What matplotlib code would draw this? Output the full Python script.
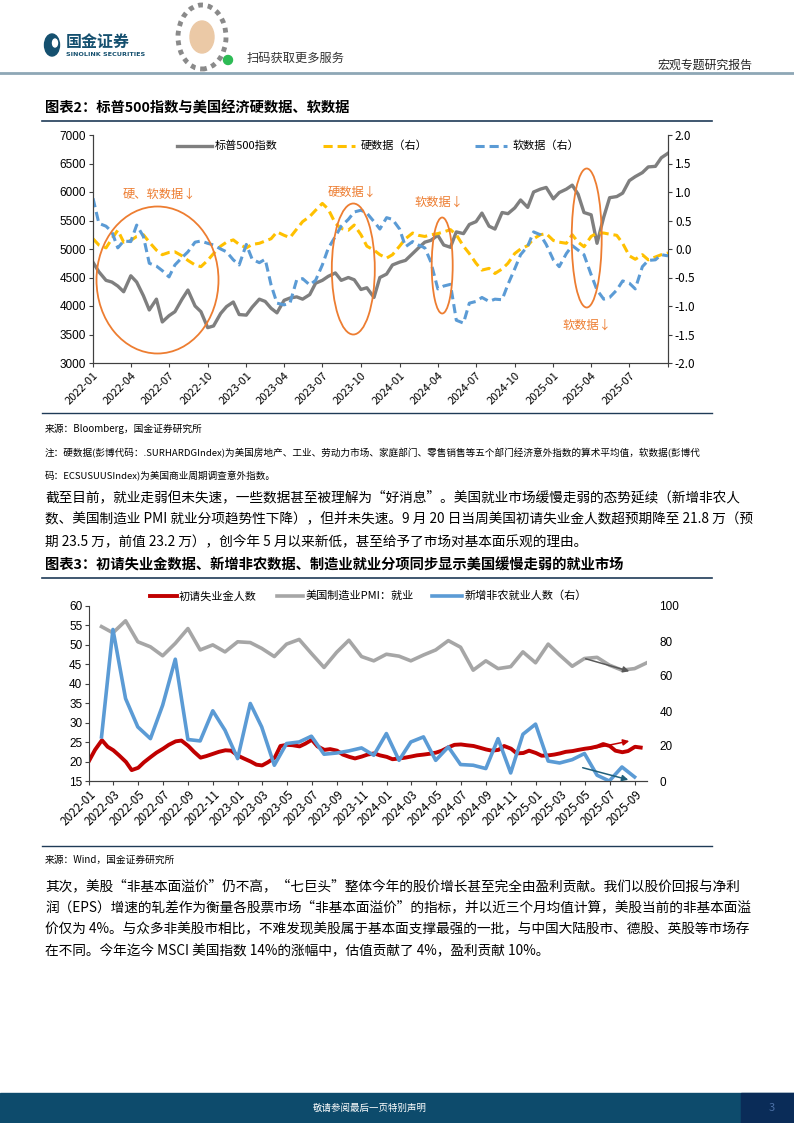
import matplotlib
matplotlib.use('Agg')
import matplotlib.pyplot as plt
from matplotlib.patches import Ellipse, Rectangle, FancyArrowPatch
from matplotlib.lines import Line2D
import pandas as pd

plt.rcParams['font.family'] = ['Noto Sans CJK SC', 'DejaVu Sans']
plt.rcParams['axes.unicode_minus'] = False

W, H = 794, 1123


def fx(x):
    return x / W


def fy(y):
    return 1 - y / H


# ---------------- 图表2 数据 (半月频, 2022-01-01 起) ----------------
spx = [4766, 4600, 4450, 4420, 4350, 4250, 4530, 4420, 4180, 3930,
       4120, 3720, 3830, 3900, 4120, 4280, 4000, 3900, 3620, 3650,
       3870, 3990, 4070, 3850, 3840, 3980, 4120, 4080, 3960, 3880,
       4100, 4140, 4160, 4120, 4200, 4400, 4450, 4520, 4580, 4450,
       4500, 4460, 4290, 4320, 4150, 4500, 4560, 4720, 4770, 4800,
       4920, 5020, 5120, 5150, 5240, 5070, 5030, 5300, 5270, 5430,
       5480, 5630, 5400, 5350, 5640, 5620, 5720, 5860, 5730, 6000,
       6050, 6080, 5880, 5990, 6050, 6120, 5960, 5640, 5600, 5100,
       5560, 5900, 5920, 5980, 6200, 6270, 6340, 6440, 6450, 6600,
       6680]
hard = [0.18, 0.07, 0.02, 0.18, 0.33, 0.12, 0.15, 0.22, 0.25, 0.12,
        -0.02, -0.10, -0.06, -0.05, -0.12, -0.20, -0.28, -0.31, -0.20, -0.08,
        0.05, 0.12, 0.16, 0.08, 0.02, 0.08, 0.10, 0.14, 0.18, 0.30,
        0.24, 0.20, 0.35, 0.48, 0.57, 0.68, 0.80, 0.70, 0.45, 0.36,
        0.33, 0.42, 0.25, 0.05, -0.02, -0.10, -0.16, -0.10, 0.05, 0.18,
        0.28, 0.24, 0.22, 0.25, 0.27, 0.30, 0.34, 0.25, 0.05, -0.08,
        -0.25, -0.37, -0.34, -0.43, -0.35, -0.25, -0.08, 0.00, 0.06, 0.18,
        0.25, 0.27, 0.15, 0.12, 0.10, 0.25, 0.12, 0.04, 0.22, 0.28,
        0.28, 0.26, 0.24, 0.10, -0.12, -0.18, -0.10, -0.19, -0.14, -0.10,
        -0.07]
soft = [0.89, 0.45, 0.40, 0.30, 0.02, 0.14, 0.13, 0.42, 0.22, -0.25,
        -0.30, -0.38, -0.49, -0.28, -0.15, -0.05, 0.12, 0.14, 0.10, 0.07,
        0.00, -0.05, -0.19, -0.28, 0.08, -0.18, -0.24, -0.18, -0.63, -0.95,
        -0.98, -0.95, -0.54, -0.52, -0.63, -0.55, -0.28, 0.01, 0.22, 0.40,
        0.52, 0.65, 0.68, 0.63, 0.48, 0.35, 0.55, 0.52, 0.35, 0.04,
        0.13, 0.07, 0.02, -0.22, -0.70, -0.65, -0.62, -1.25, -1.30, -0.95,
        -0.92, -0.85, -0.92, -0.88, -0.89, -0.62, -0.35, -0.10, 0.05, 0.30,
        0.25, 0.08, -0.19, -0.31, -0.08, 0.06, -0.02, -0.10, -0.45, -0.72,
        -0.88, -0.85, -0.72, -0.56, -0.60, -0.70, -0.31, -0.20, -0.19, -0.10,
        -0.12]

# ---------------- 图表3 数据 ----------------
# 初请失业金人数 (万人, 半月频)
claims = [20.3, 23.0, 25.5, 23.8, 22.9, 21.6, 19.9, 17.8, 18.4, 19.8,
          21.2, 22.3, 23.3, 24.3, 25.2, 25.4, 24.0, 22.5, 21.0, 21.4,
          22.0, 22.5, 22.9, 22.8, 21.5, 20.8, 20.0, 19.2, 19.0, 19.8,
          21.0, 24.0, 24.3, 24.2, 23.9, 24.6, 25.6, 23.9, 23.0, 23.2,
          22.8, 21.8, 21.2, 20.8, 21.3, 21.8, 22.1, 21.6, 21.2, 20.6,
          20.8, 21.0, 21.3, 21.6, 21.8, 22.0, 22.3, 22.8, 23.7, 24.3,
          24.4, 24.2, 24.0, 23.6, 23.1, 22.8, 23.0, 24.0, 23.3, 22.1,
          22.2, 22.8, 22.2, 21.5, 21.6, 21.8, 22.1, 22.5, 22.7, 23.0,
          23.3, 23.5, 23.9, 24.5, 24.0, 22.8, 22.4, 22.7, 23.8, 23.6]
# 美国制造业PMI: 就业 (月频, 2022-01 至 2025-09)
pmi_emp = [54.7, 53.1, 56.2, 50.8, 49.5, 47.2, 50.4, 54.2, 48.7, 50.0,
           48.2, 50.8, 50.6, 49.1, 47.0, 50.2, 51.4, 47.8, 44.2, 48.1,
           51.2, 47.0, 45.9, 47.6, 47.1, 45.9, 47.4, 48.7, 51.1, 49.4,
           43.5, 45.9, 43.9, 44.4, 48.2, 45.4, 50.2, 47.4, 44.5, 46.5,
           46.8, 44.8, 43.5, 43.9, 45.4]
# 新增非农就业人数 (万人, 右轴, 2022-01 至 2025-08)
nfp = [25.2, 86.6, 47.1, 30.9, 24.2, 43.3, 69.6, 23.7, 22.9, 40.1,
       29.0, 12.8, 44.3, 30.9, 9.0, 21.4, 22.3, 25.6, 15.3, 16.0,
       17.2, 18.9, 14.7, 27.1, 11.8, 22.3, 25.2, 11.8, 19.5, 9.4,
       9.0, 7.1, 24.2, 4.6, 26.7, 32.5, 11.4, 10.3, 12.2, 15.7,
       3.3, 0.0, 8.0, 2.3]

fig = plt.figure(figsize=(W / 100, H / 100), dpi=100)

# ---------------- 页眉 ----------------
fig.add_artist(Ellipse((fx(52), fy(45)), 15 / W, 22 / H, transform=fig.transFigure,
                       color='#15506F'))
fig.add_artist(Ellipse((fx(55), fy(43)), 5 / W, 8 / H, transform=fig.transFigure,
                       color='white'))
fig.text(fx(66), fy(42), '国金证券', fontsize=11.5, fontweight='bold',
         color='#15506F', va='center')
fig.text(fx(66), fy(54), 'SINOLINK SECURITIES', fontsize=4.6, fontweight='bold',
         color='#15506F', va='center', family='DejaVu Sans')
# 二维码位置 (示意)
fig.add_artist(Ellipse((fx(202), fy(37)), 48 / W, 64 / H, transform=fig.transFigure,
                       fill=False, ec='#8A8A8A', lw=3.5, ls=(0, (1, 1))))
fig.add_artist(Ellipse((fx(202), fy(37)), 24 / W, 32 / H, transform=fig.transFigure,
                       color='#EBC9A6'))
fig.add_artist(Ellipse((fx(228), fy(60)), 9 / W, 9 / H, transform=fig.transFigure,
                       color='#2DBB55'))
fig.text(fx(247), fy(58), '扫码获取更多服务', fontsize=8.8, color='#333333', va='center')
fig.text(fx(752), fy(65), '宏观专题研究报告', fontsize=8.6, color='#222222',
         va='center', ha='right')
fig.add_artist(Line2D([0, 1], [fy(73), fy(73)], transform=fig.transFigure,
                      color='#8EA7B6', lw=2))

line_c = '#1F3B57'
orange = '#ED7D31'

# ---------------- 图表2 ----------------
fig.text(fx(45), fy(108), '图表2：标普500指数与美国经济硬数据、软数据', fontsize=10.3,
         fontweight='bold', va='center')
fig.add_artist(Line2D([fx(42), fx(712)], [fy(121), fy(121)], transform=fig.transFigure,
                      color=line_c, lw=1.2))

ax1 = fig.add_axes([fx(93), fy(363), (668 - 93) / W, (363 - 135) / H])
d1 = pd.date_range('2022-01-01', periods=len(spx), freq='SMS')
ax1.plot(d1, spx, color='#7F7F7F', lw=2.4, solid_joinstyle='round')
ax1.set_ylim(3000, 7000)
ax1.set_yticks(range(3000, 7001, 500))
ax1.set_xlim(pd.Timestamp('2022-01-01'), pd.Timestamp('2025-10-01'))
q = pd.date_range('2022-01-01', '2025-10-01', freq='QS')
ax1.set_xticks(q)
ax1.set_xticklabels([d.strftime('%Y-%m') for d in q[:-1]] + [''], rotation=45,
                    ha='right', rotation_mode='anchor', fontsize=8)
ax1r = ax1.twinx()
ax1r.plot(d1, hard, color='#FFC000', lw=2.2, dashes=(3, 1.6))
ax1r.plot(d1, soft, color='#5B9BD5', lw=2.2, dashes=(3, 1.6))
ax1r.set_ylim(-2, 2)
ax1r.set_yticks([-2, -1.5, -1, -0.5, 0, 0.5, 1, 1.5, 2])
ax1r.set_yticklabels(['%.1f' % v for v in ax1r.get_yticks()], fontsize=8.5)
for a in (ax1, ax1r):
    a.spines['top'].set_visible(False)
    for s in ('left', 'right', 'bottom'):
        a.spines[s].set_color('#404040')
        a.spines[s].set_linewidth(0.8)
    a.tick_params(direction='out', length=3, width=0.8, color='#404040', pad=2)
ax1.tick_params(axis='y', labelsize=8.5)
for lab in ax1.get_yticklabels():
    lab.set_family(['Liberation Sans', 'DejaVu Sans'])

# 图例
fig.add_artist(Line2D([fx(177), fx(212)], [fy(146), fy(146)], transform=fig.transFigure,
                      color='#7F7F7F', lw=2.4))
fig.text(fx(215), fy(146), '标普500指数', fontsize=8, va='center')
fig.add_artist(Line2D([fx(323), fx(355)], [fy(146), fy(146)], transform=fig.transFigure,
                      color='#FFC000', lw=2.2, dashes=(3, 1.6)))
fig.text(fx(361), fy(146), '硬数据（右）', fontsize=8, va='center')
fig.add_artist(Line2D([fx(475), fx(507)], [fy(146), fy(146)], transform=fig.transFigure,
                      color='#5B9BD5', lw=2.2, dashes=(3, 1.6)))
fig.text(fx(513), fy(146), '软数据（右）', fontsize=8, va='center')

# 椭圆标注
for cx, cy, ew, eh in [(157.5, 280, 122, 147), (353.3, 269, 43, 131),
                       (442.2, 265.5, 21, 96), (586.7, 238, 30, 139)]:
    fig.add_artist(Ellipse((fx(cx), fy(cy)), ew / W, eh / H, transform=fig.transFigure,
                           fill=False, ec=orange, lw=1.3))
for tx, ty, t in [(123, 194, '硬、软数据↓'), (328, 192, '硬数据↓'),
                  (415, 202, '软数据↓'), (563, 325, '软数据↓')]:
    fig.text(fx(tx), fy(ty), t, fontsize=8.8, color=orange, va='center')

fig.add_artist(Line2D([fx(42), fx(712)], [fy(413), fy(413)], transform=fig.transFigure,
                      color=line_c, lw=1.0))
fig.text(fx(45), fy(429), '来源：Bloomberg，国金证券研究所', fontsize=7, va='center')
fig.text(fx(45), fy(453), '注：硬数据(彭博代码：.SURHARDGIndex)为美国房地产、工业、劳动力市场、'
         '家庭部门、零售销售等五个部门经济意外指数的算术平均值，软数据(彭博代', fontsize=6.9,
         va='center')
fig.text(fx(45), fy(476), '码：ECSUSUUSIndex)为美国商业周期调查意外指数。', fontsize=6.9,
         va='center')

para1 = ['截至目前，就业走弱但未失速，一些数据甚至被理解为“好消息”。美国就业市场缓慢走弱的态势延续（新增非农人',
         '数、美国制造业 PMI 就业分项趋势性下降），但并未失速。9 月 20 日当周美国初请失业金人数超预期降至 21.8 万（预',
         '期 23.5 万，前值 23.2 万），创今年 5 月以来新低，甚至给予了市场对基本面乐观的理由。']
for i, t in enumerate(para1):
    fig.text(fx(45), fy(497 + 22.5 * i), t, fontsize=9.85, va='center')

# ---------------- 图表3 ----------------
fig.text(fx(45), fy(565), '图表3：初请失业金数据、新增非农数据、制造业就业分项同步显示美国缓慢走弱的就业市场',
         fontsize=10.3, fontweight='bold', va='center')
fig.add_artist(Line2D([fx(42), fx(712)], [fy(578), fy(578)], transform=fig.transFigure,
                      color=line_c, lw=1.2))

ax2 = fig.add_axes([fx(89.3), fy(781), (646.8 - 89.3) / W, (781 - 606) / H])
d_claims = pd.date_range('2022-01-01', periods=len(claims), freq='SMS')
d_month = pd.date_range('2022-01-31', periods=len(pmi_emp), freq='ME')
ax2.plot(d_month, pmi_emp, color='#A6A6A6', lw=2.6)
ax2.plot(d_claims, claims, color='#C00000', lw=2.8)
ax2r = ax2.twinx()
ax2r.plot(d_month[:len(nfp)], nfp, color='#5B9BD5', lw=2.6)
ax2.set_ylim(15, 60)
ax2.set_yticks(range(15, 61, 5))
ax2r.set_ylim(0, 100)
ax2r.set_yticks(range(0, 101, 20))
ax2.set_xlim(pd.Timestamp('2022-01-01'), pd.Timestamp('2025-09-30'))
m2 = pd.date_range('2022-01-01', '2025-09-01', freq='2MS')
ax2.set_xticks(m2)
ax2.set_xticklabels([d.strftime('%Y-%m') for d in m2], rotation=45, ha='right',
                    rotation_mode='anchor', fontsize=8)
for a in (ax2, ax2r):
    a.spines['top'].set_visible(False)
    a.spines['right'].set_visible(False)
    for s in ('left', 'bottom'):
        a.spines[s].set_color('#404040')
        a.spines[s].set_linewidth(0.8)
    a.tick_params(direction='out', length=3, width=0.8, color='#404040', pad=2,
                  labelsize=8.5)
ax2r.spines['left'].set_visible(False)
ax2r.tick_params(axis='y', length=0, pad=9)
for lab in ax2.get_yticklabels() + ax2r.get_yticklabels():
    lab.set_family(['Liberation Sans', 'DejaVu Sans'])

# 图例
fig.add_artist(Line2D([fx(150), fx(177)], [fy(596), fy(596)], transform=fig.transFigure,
                      color='#C00000', lw=2.8))
fig.text(fx(179), fy(596), '初请失业金人数', fontsize=8, va='center')
fig.add_artist(Line2D([fx(277), fx(303)], [fy(596), fy(596)], transform=fig.transFigure,
                      color='#A6A6A6', lw=2.6))
fig.text(fx(306), fy(596), '美国制造业PMI：就业', fontsize=8, va='center')
fig.add_artist(Line2D([fx(432), fx(462)], [fy(596), fy(596)], transform=fig.transFigure,
                      color='#5B9BD5', lw=2.6))
fig.text(fx(465), fy(596), '新增非农就业人数（右）', fontsize=8, va='center')

# 趋势箭头
for (x0, y0), (x1, y1), c in [((585, 750), (632, 740.5), '#C00000'),
                              ((583, 658), (632, 672), '#595959'),
                              ((580, 767), (631, 780.5), '#1F5F7A')]:
    fig.add_artist(FancyArrowPatch(
        (fx(x0), fy(y0)), (fx(x1), fy(y1)), transform=fig.transFigure,
        arrowstyle='-|>', mutation_scale=9, color=c, lw=1.1))

fig.add_artist(Line2D([fx(42), fx(712)], [fy(846), fy(846)], transform=fig.transFigure,
                      color=line_c, lw=1.0))
fig.text(fx(45), fy(860), '来源：Wind，国金证券研究所', fontsize=7, va='center')

para2 = ['其次，美股“非基本面溢价”仍不高，“七巨头”整体今年的股价增长甚至完全由盈利贡献。我们以股价回报与净利',
         '润（EPS）增速的轧差作为衡量各股票市场“非基本面溢价”的指标，并以近三个月均值计算，美股当前的非基本面溢',
         '价仅为 4%。与众多非美股市相比，不难发现美股属于基本面支撑最强的一批，与中国大陆股市、德股、英股等市场存',
         '在不同。今年迄今 MSCI 美国指数 14%的涨幅中，估值贡献了 4%，盈利贡献 10%。']
for i, t in enumerate(para2):
    fig.text(fx(45), fy(886 + 21.8 * i), t, fontsize=9.85, va='center')

# ---------------- 页脚 ----------------
fig.add_artist(Rectangle((0, fy(1123)), 1, 30 / H, transform=fig.transFigure,
                         color='#0D4B6C'))
fig.add_artist(Rectangle((fx(741), fy(1123)), (794 - 741) / W, 30 / H,
                         transform=fig.transFigure, color='#0A2C58'))
fig.text(fx(370), fy(1108), '敬请参阅最后一页特别声明', fontsize=6.8, color='white',
         ha='center', va='center')
fig.text(fx(772), fy(1108), '3', fontsize=8, color='#4A6FA5', ha='center', va='center')

fig.savefig('out.png', dpi=100)
